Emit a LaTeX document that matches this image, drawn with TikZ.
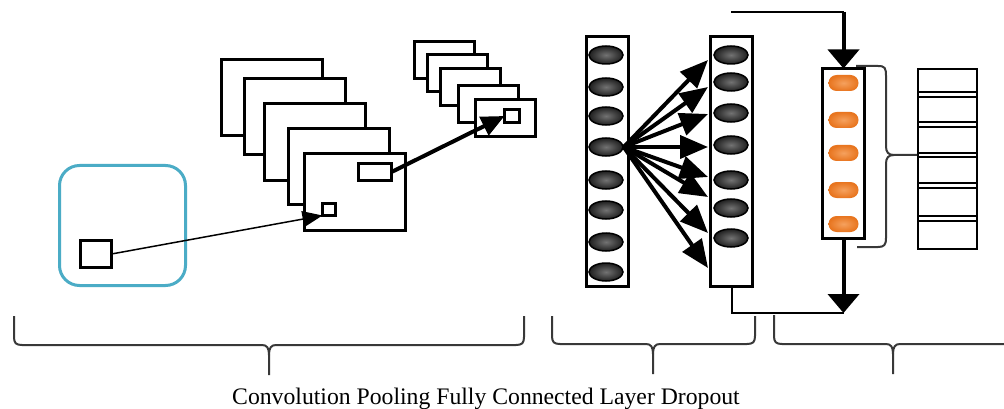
\documentclass[tikz,border=0pt]{standalone}
\usepackage{fontspec}
\setmainfont{Liberation Serif}
\usetikzlibrary{arrows.meta,shapes.geometric,calc}
\definecolor{aqua}{HTML}{4BACC6}
\definecolor{drop}{HTML}{E8751F}
\definecolor{dropl}{HTML}{F5A15E}
\definecolor{braceg}{HTML}{383838}

% under-brace: left x, tip x, right x, top of the arms, height of the bar
\newcommand\bottombrace[5]{%
  \draw[brc] (#1,#4) -- (#1,#5-8) .. controls (#1,#5-2) and (#1+2,#5) .. (#1+8,#5)
    -- (#2-7,#5) .. controls (#2-2,#5) and (#2,#5+3) .. (#2,#5+10) -- (#2,#5+30);
  \draw[brc] (#2,#5+10) .. controls (#2,#5+3) and (#2+2,#5) .. (#2+7,#5)
    -- (#3-8,#5) .. controls (#3-2,#5) and (#3,#5-2) .. (#3,#5-8) -- (#3,#4);
}

\begin{document}
\begin{tikzpicture}[x=1pt,y=-1pt,
  box/.style={draw, line width=3pt, fill=white, inner sep=0pt, outer sep=0pt},
  fmap/.style={box, minimum width=101pt, minimum height=76pt},
  pmap/.style={box, minimum width=60pt, minimum height=37pt},
  col/.style={box, minimum width=42pt, minimum height=250pt},
  neuron/.style={ellipse, draw=black, line width=1.5pt, minimum width=34pt,
    minimum height=18pt, inner sep=0pt, inner color=black!55, outer color=black!88},
  dunit/.style={rounded corners=8pt, minimum width=30pt, minimum height=16pt,
    inner sep=0pt, inner color=dropl, outer color=drop},
  thinarr/.style={line width=1.5pt, -{Triangle[length=20pt,width=16pt]}},
  fatarr/.style={line width=4pt, -{Triangle[length=23pt,width=20pt]}},
  fcarr/.style={line width=4pt, -{Triangle[length=28pt,width=23pt]}},
  bigarr/.style={line width=4pt, -{Triangle[length=19pt,width=31pt]}},
  wire/.style={line width=2pt},
  brc/.style={draw=braceg, line width=2pt},
  cell/.style={line width=2pt}
]
\useasboundingbox[fill=white] (0,0) rectangle (1004,409);

% input image with its receptive field
\node[draw=aqua, line width=3pt, rounded corners=20pt, minimum width=126pt,
  minimum height=120pt, inner sep=0pt] (input) at (122.5,225.5) {};
\node[box, minimum width=31pt, minimum height=27pt] (field) at (96,254) {};

% convolution feature maps
\node[fmap] (c1) at (271.5,97.5) {};
\node[fmap] (c2) at (295,116.5) {};
\node[fmap] (c3) at (314.5,142) {};
\node[fmap] (c4) at (338.5,166.5) {};
\node[fmap] (c5) at (355,192) {};
\node[box, line width=2.5pt, minimum width=33pt, minimum height=17pt] (cwin) at (375,172) {};
\node[box, line width=2.5pt, minimum width=13pt, minimum height=12pt] (cpix) at (329,209.5) {};

% pooling maps
\node[pmap] (p1) at (444.5,60) {};
\node[pmap] (p2) at (457.5,73) {};
\node[pmap] (p3) at (470.5,87.5) {};
\node[pmap] (p4) at (488,104) {};
\node[pmap] (p5) at (505,118.5) {};
\node[box, line width=2.5pt, minimum width=15pt, minimum height=13pt] (ppix) at (512,116) {};

\draw[thinarr] (field.east) -- (cpix.south west);
\draw[fatarr] (cwin.east) -- (ppix.west);

% fully connected layers
\node[col] (fc1) at (607,161.5) {};
\foreach \i/\yy in {1/55,2/87,3/116,4/147,5/180,6/210,7/242,8/272}
  \node[neuron] (a\i) at (606,\yy) {};
\node[col] (fc2) at (731.5,161.5) {};
\foreach \i/\yy in {1/55,2/82,3/113,4/145,5/180,6/208,7/238}
  \node[neuron] (b\i) at (731,\yy) {};

\foreach \i/\yy in {1/60,2/87,3/114,4/147,5/177,6/197,7/233,8/268}
  \coordinate (t\i) at (708,\yy);
\foreach \i in {1,...,8}
  \draw[fcarr] (a4.east) -- (t\i);

% dropout layer
\node[box, minimum width=42pt, minimum height=170pt] (drop) at (843.5,153.5) {};
\foreach \i/\yy in {1/83,2/120,3/153,4/190,5/224}
  \node[dunit] (d\i) at (843.5,\yy) {};

\coordinate (feed) at (731,12);
\coordinate (bend) at (843.5,12);
\draw[wire] (feed) -- (bend);
\draw[bigarr] (bend) -- (drop.north);

\coordinate (outtip) at (843.5,313);
\draw[bigarr] (drop.south) -- (outtip);
\draw[wire] (fc2.south) |- (outtip);

% output vector
\node[draw, line width=2pt, minimum width=59pt, minimum height=180pt, inner sep=0pt] (res) at (947.5,159) {};
\foreach \yy in {92,97,122,127,153,157,183,188,216,221}
  \draw[cell] (918,\yy) -- (977,\yy);

\coordinate (restip) at ($(res.west)+(0,-4)$);
\draw[brc] (856,66) -- (878,66) .. controls (885,66) and (886,68) .. (886,76)
  -- (886,146) .. controls (886,152) and (888,155) .. (894,155) -- (restip);
\draw[brc] (894,155) .. controls (888,155) and (886,158) .. (886,164)
  -- (886,238) .. controls (886,245) and (884,247) .. (878,247) -- (857,247);

% stage braces
\bottombrace{14}{269}{524}{316}{345}
\bottombrace{552}{653}{755}{316}{344}
\bottombrace{774}{893}{1012}{315}{344}

\node[anchor=base, inner sep=0pt, font=\fontsize{23.7}{28}\selectfont] (caption) at (486,404)
  {Convolution Pooling Fully Connected Layer Dropout};
\end{tikzpicture}
\end{document}
